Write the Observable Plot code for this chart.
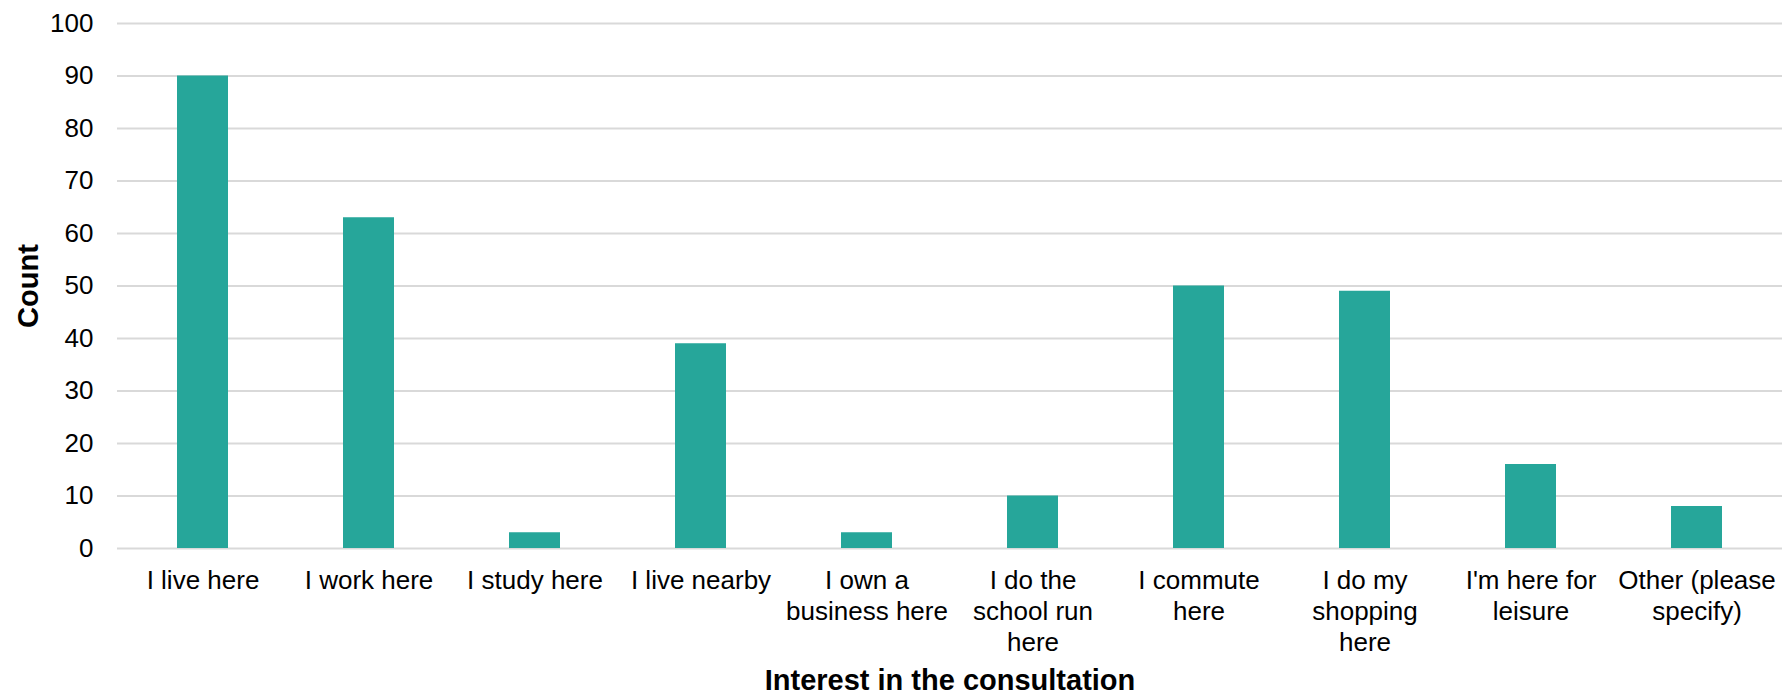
<!DOCTYPE html>
<html>
<head>
<meta charset="utf-8">
<script src="https://cdn.jsdelivr.net/npm/d3@7"></script>
<script src="https://cdn.jsdelivr.net/npm/@observablehq/plot@0.6"></script>
<style>
  html, body { margin: 0; padding: 0; background: #ffffff; }
  #chart svg { display: block; }
</style>
</head>
<body>
<div id="chart"></div>
<script>
// Reasons respondents gave for their interest in the consultation
const categories = [
  "I live here",
  "I work here",
  "I study here",
  "I live nearby",
  "I own a business here",
  "I do the school run here",
  "I commute here",
  "I do my shopping here",
  "I'm here for leisure",
  "Other (please specify)"
];

const counts = [90, 63, 3, 39, 3, 10, 50, 49, 16, 8];

// Wrapped tick labels, one line per array entry
const tickLabels = [
  ["I live here"],
  ["I work here"],
  ["I study here"],
  ["I live nearby"],
  ["I own a", "business here"],
  ["I do the", "school run", "here"],
  ["I commute", "here"],
  ["I do my", "shopping", "here"],
  ["I'm here for", "leisure"],
  ["Other (please", "specify)"]
];

const yTicks = [0, 10, 20, 30, 40, 50, 60, 70, 80, 90, 100];

const data = categories.map((category, i) => ({category, count: counts[i]}));
const labelFor = new Map(categories.map((c, i) => [c, tickLabels[i].join("\n")]));

const font = "'Liberation Sans', Arial, Helvetica, sans-serif";

const chart = Plot.plot({
  width: 1782,
  height: 694,
  marginLeft: 117,
  marginRight: 0,
  marginTop: 23,
  marginBottom: 146,
  style: {fontFamily: font, fontSize: "26px", color: "#000000", background: "#ffffff", overflow: "visible"},
  x: {domain: categories, paddingInner: 0.69, paddingOuter: 0.345, label: null},
  y: {domain: [0, 100], label: null},
  marks: [
    Plot.gridY(yTicks, {stroke: "#d9d9d9", strokeOpacity: 1, strokeWidth: 2}),
    Plot.barY(data, {x: "category", y: "count", fill: "#26a69a"}),
    Plot.axisY(yTicks, {tickSize: 0, tickPadding: 24, fontSize: 26, fill: "#000000", label: null}),
    Plot.axisX({
      tickSize: 0,
      tickPadding: 18,
      tickFormat: (d) => labelFor.get(d),
      lineHeight: 1.2,
      fontSize: 26,
      fill: "#000000",
      label: null
    }),
    // y-axis title, rotated and centred along the left edge
    Plot.text(["Count"], {
      frameAnchor: "left",
      textAnchor: "middle",
      lineAnchor: "middle",
      dx: -89,
      rotate: -90,
      fontWeight: "bold",
      fontSize: 29,
      fill: "#000000"
    }),
    // x-axis title below the wrapped tick labels
    Plot.text(["Interest in the consultation"], {
      frameAnchor: "bottom",
      textAnchor: "middle",
      lineAnchor: "bottom",
      dy: 141,
      fontWeight: "bold",
      fontSize: 29,
      fill: "#000000"
    })
  ]
});

document.getElementById("chart").append(chart);
</script>
</body>
</html>
